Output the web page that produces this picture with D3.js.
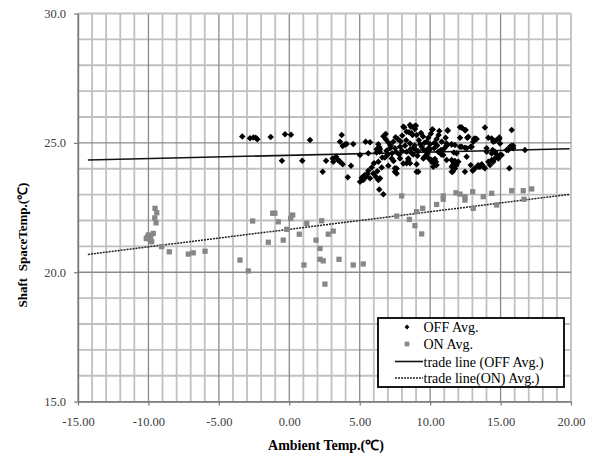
<!DOCTYPE html>
<html><head><meta charset="utf-8">
<script src="https://cdn.jsdelivr.net/npm/d3@7"></script>
<style>
html,body{margin:0;padding:0;background:#fff;}
svg{display:block;}
text{font-family:"Liberation Serif","Times New Roman",serif;}
</style></head>
<body>
<svg id="chart" width="597" height="458"></svg>
<script>
// ---------------- DATA ----------------
const xDomain = [-15, 20];
const yDomain = [15, 30];
const xTickValues = [-15, -10, -5, 0, 5, 10, 15, 20];
const yTickValues = [15, 20, 25, 30];
const xLabel = "Ambient Temp.(\u2103)";
const yLabel = "Shaft  SpaceTemp.(\u2103)";
const legendLabels = ["OFF Avg.", "ON Avg.", "trade line (OFF Avg.)", "trade line(ON) Avg.)"];

// OFF Avg. points [ambient, shaft]
const offAvg = [
[-3.34,25.25],[-2.79,25.18],[-2.55,25.21],[-2.38,25.20],[-2.27,25.14],[-1.32,25.23],[-0.30,25.33],[0.12,25.31],[-0.52,24.31],[0.92,24.31],[1.47,25.11],
[2.37,23.88],[2.61,24.31],[3.08,24.40],[3.12,24.27],[3.32,24.46],[3.44,24.35],[3.60,24.27],[3.79,24.17],[3.55,24.30],[4.38,24.12],[4.15,23.67],[3.72,25.30],[3.60,25.04],[3.95,24.94],[3.79,24.88],[4.07,24.96],[4.54,24.96],[5.42,25.04],[5.73,25.02],[5.02,24.53],[5.61,24.60],[6.20,24.63],[6.01,24.21],[5.85,24.05],[5.61,23.92],[5.37,23.76],[5.14,23.65],[5.02,23.50],[5.25,23.56],[5.73,23.63],[5.96,23.82],[6.15,23.69],[6.32,23.56],[5.45,23.69],[5.30,23.72],[5.55,23.80],[6.39,23.20],[6.68,23.01],[6.68,25.26],[6.86,25.13],[6.32,24.95],[6.44,24.75],[6.84,25.34],[6.39,24.83],[6.20,24.75],[6.42,24.66],[6.60,24.43],[6.32,24.27],[6.44,23.63],[6.79,24.43],[6.56,24.05],[6.25,23.90],
[7.03,24.12],[7.50,24.02],[7.62,23.82],[7.50,23.88],[7.62,24.01],[8.16,25.59],[8.64,25.62],[8.99,25.66],[8.57,25.69],[8.92,25.54],[8.50,25.41],[8.02,25.28],[7.70,25.15],[7.38,25.04],[7.20,24.89],[7.15,24.79],[7.50,24.79],[7.86,24.85],[8.21,24.89],[8.57,24.98],[8.33,24.66],[8.69,24.60],[9.16,24.68],[9.40,24.85],[9.75,25.04],[9.87,25.20],[10.15,25.52],[10.65,25.46],[11.25,25.47],[10.46,25.15],[10.82,25.04],[11.17,24.89],[10.29,24.79],[10.77,24.72],[7.27,24.40],[7.86,24.40],[8.45,24.40],[9.04,24.17],[9.16,23.88],[10.34,24.38],[10.46,24.14],[8.33,24.21],[8.45,24.34],[10.41,24.27],[10.22,24.08],[10.11,24.27],[9.04,23.88],
[9.50,24.75],[9.70,24.70],[9.90,24.80],[10.00,24.75],[8.80,24.80],[9.00,24.72],[8.00,24.70],[7.60,24.65],[7.30,24.60],[7.00,24.55],[6.90,24.70],[10.50,24.90],[10.60,24.65],[9.30,24.95],[9.60,25.00],[8.60,24.75],[8.90,24.90],[9.20,25.10],[9.50,25.25],[8.30,25.10],[7.90,25.05],[10.00,24.95],[10.30,25.00],[9.80,24.60],[9.10,24.50],[8.80,24.55],[7.80,24.55],[7.40,24.30],[8.10,24.20],[9.60,24.45],[10.80,24.55],[11.00,24.78],[9.35,25.38],[8.75,25.30],[10.05,25.35],[7.05,25.00],[7.55,25.22],[10.60,25.30],[11.10,25.20],[9.90,24.40],
[8.10,25.62],[8.92,25.65],[8.33,25.43],[8.69,25.37],[9.04,25.30],[10.18,25.52],[11.24,25.49],[12.12,25.60],[12.47,25.49],[8.57,24.21],[9.52,24.40],[9.75,24.53],[10.11,24.34],[10.34,24.21],[10.58,24.66],[10.93,24.53],[11.17,24.34],[11.64,24.27],[11.88,24.14],[11.53,23.88],[11.76,24.01],
[12.24,25.59],[12.52,25.50],[13.89,25.59],[15.79,25.50],[12.12,25.20],[12.64,25.20],[13.11,25.15],[13.30,25.15],[14.13,25.20],[14.60,25.07],[14.91,25.15],[11.53,24.94],[11.76,24.92],[12.24,24.85],[12.47,24.81],[12.88,24.85],[14.01,24.79],[14.44,24.72],[15.79,24.89],[15.90,24.79],[16.73,24.72],[11.69,24.63],[11.88,24.60],[11.53,24.34],[11.76,24.30],[11.65,24.17],[12.00,24.27],[11.60,23.88],[12.47,23.88],[13.18,24.02],[13.42,24.14],[13.66,24.17],[13.77,24.08],[13.89,24.02],[14.48,24.27],[14.84,24.43],[14.96,24.53],[14.72,24.56],[12.88,24.14],[14.25,24.14],[15.62,24.02],
[15.67,24.85],[15.55,24.72],[15.90,24.89],[13.02,23.92],[13.54,24.08],[11.53,24.08],[11.76,24.14],[15.43,24.72],[14.96,24.98],[14.72,25.11],[15.08,24.53],[14.84,24.40],[14.60,24.66],
[12.71,25.24],[13.18,25.17],[13.06,25.04],[11.17,24.98],[11.53,24.95],[12.12,24.85],[12.59,24.79],[12.95,24.85],[12.59,24.46],[13.06,23.95],[13.42,24.08],[14.37,25.17],[14.91,25.21],[14.48,25.04],[14.01,24.66],[14.37,24.59],[14.72,24.46],[14.13,24.27],[14.37,24.34],[14.60,24.40]
];

// ON Avg. points [ambient, shaft]
const onAvg = [
[-9.53,22.47],[-9.41,22.30],[-9.46,21.91],[-9.55,22.10],[-9.66,21.50],[-9.84,21.37],[-10.01,21.44],[-10.08,21.35],[-9.89,21.27],[-9.77,21.18],[-10.15,21.30],[-9.06,20.99],[-8.52,20.79],[-7.17,20.70],[-6.82,20.75],[-5.98,20.81],[-3.50,20.47],[-2.91,20.05],[-2.60,21.98],
[-1.18,22.28],[-1.02,22.28],[-0.78,21.95],[-1.49,21.16],[-0.43,21.24],[-0.18,21.66],[0.10,22.08],[0.24,22.21],[0.71,21.47],[1.04,20.28],[1.24,21.89],[1.90,21.24],[2.18,20.92],[2.30,21.99],[2.18,20.50],[2.41,20.44],[2.77,21.47],[3.12,21.59],[2.53,19.54],[3.53,20.50],[4.54,20.28],[5.25,20.32],
[7.98,22.95],[7.62,22.17],[8.52,22.04],[8.92,21.80],[9.40,21.48],[9.04,22.34],[9.47,22.47],[10.46,22.62],[10.93,22.82],[10.93,22.95],[11.83,23.07],[12.12,23.02],[12.47,22.92],[12.47,22.79],[13.02,23.11],[13.06,22.47],[13.77,22.92],[14.37,23.05],[14.72,22.60],[15.79,23.15],[16.61,23.15],[16.66,22.82],[17.21,23.22]
];

// trend lines (end points)
const trendX = [-14.3, 19.9];
const offTrendY = [24.34, 24.77];
const onTrendY = [20.69, 23.01];

// ---------------- DRAW ----------------
const svg = d3.select("#chart");
const x = d3.scaleLinear().domain(xDomain).range([78, 571]);
const y = d3.scaleLinear().domain(yDomain).range([401.6, 13.5]);

// minor grid
const minorX = d3.range(xDomain[0], xDomain[1] + 1, 1);
const minorY = d3.range(yDomain[0], yDomain[1] + 1, 1);
const grid = svg.append("g");
grid.selectAll(".vx").data(minorX.filter(v => v % 5 !== 0)).join("line")
  .attr("x1", d => x(d)).attr("x2", d => x(d)).attr("y1", y(yDomain[1])).attr("y2", y(yDomain[0]))
  .attr("stroke", "#c0c0c0").attr("stroke-width", 1.8);
grid.selectAll(".hy").data(minorY.filter(v => v % 5 !== 0)).join("line")
  .attr("y1", d => y(d)).attr("y2", d => y(d)).attr("x1", x(xDomain[0])).attr("x2", x(xDomain[1]))
  .attr("stroke", "#c0c0c0").attr("stroke-width", 1.8);
// major grid
grid.selectAll(".mx").data(xTickValues).join("line")
  .attr("x1", d => x(d)).attr("x2", d => x(d)).attr("y1", y(yDomain[1])).attr("y2", y(yDomain[0]))
  .attr("stroke", d => d === xDomain[1] ? "#c0c0c0" : "#8a8a8a").attr("stroke-width", d => d === xDomain[1] ? 1.8 : 1.3);
grid.selectAll(".my").data(yTickValues).join("line")
  .attr("y1", d => y(d)).attr("y2", d => y(d)).attr("x1", x(xDomain[0])).attr("x2", x(xDomain[1]))
  .attr("stroke", d => d === yDomain[1] ? "#c0c0c0" : "#8a8a8a").attr("stroke-width", d => d === yDomain[1] ? 1.8 : 1.3);

// axes
const xAxis = svg.append("g").attr("transform", `translate(0,${y(yDomain[0])})`)
  .call(d3.axisBottom(x).tickValues(xTickValues).tickFormat(v => v.toFixed(2)).tickSizeInner(4).tickSizeOuter(0).tickPadding(12));
const yAxis = svg.append("g").attr("transform", `translate(${x(xDomain[0])},0)`)
  .call(d3.axisLeft(y).tickValues(yTickValues).tickFormat(v => v.toFixed(1)).tickSizeInner(4).tickSizeOuter(0).tickPadding(8));
[xAxis, yAxis].forEach(g => {
  g.attr("font-family", null);
  g.select(".domain").attr("stroke", "#7a7a7a").attr("stroke-width", 1.4);
  g.selectAll(".tick line").attr("stroke", "#7a7a7a").attr("stroke-width", 1.2);
  g.selectAll(".tick text").style("font-family", "'Liberation Serif', serif").attr("font-size", 12.5).attr("fill", "#404040");
});

// trend lines
const line = d3.line().x(d => x(d[0])).y(d => y(d[1]));
svg.append("path").datum(trendX.map((v, i) => [v, offTrendY[i]]))
  .attr("d", line).attr("fill", "none").attr("stroke", "#111").attr("stroke-width", 1.6);
svg.append("path").datum(trendX.map((v, i) => [v, onTrendY[i]]))
  .attr("d", line).attr("fill", "none").attr("stroke", "#222").attr("stroke-width", 1.5).attr("stroke-dasharray", "2,1");

// points
const sq = d3.symbol().type(d3.symbolSquare).size(28);
svg.append("g").selectAll("path").data(onAvg).join("path")
  .attr("d", sq).attr("transform", d => `translate(${x(d[0])},${y(d[1])})`).attr("fill", "#878787");
const dm = d3.symbol().type(d3.symbolSquare).size(21);
svg.append("g").selectAll("path").data(offAvg).join("path")
  .attr("d", dm).attr("transform", d => `translate(${x(d[0])},${y(d[1])}) rotate(45)`).attr("fill", "#000");

// axis titles
svg.append("text").attr("x", 326).attr("y", 450).attr("text-anchor", "middle")
  .style("font-family", "'Liberation Serif', serif")
  .attr("font-weight", "bold").attr("font-size", 14).attr("fill", "#000").text(xLabel);
svg.append("text").attr("transform", "translate(27,245) rotate(-90)").attr("text-anchor", "middle")
  .style("font-family", "'Liberation Serif', serif")
  .attr("font-weight", "bold").attr("font-size", 13).attr("fill", "#000").style("white-space", "pre").text(yLabel);

// legend
const lg = svg.append("g");
lg.append("rect").attr("x", 378).attr("y", 318).attr("width", 186).attr("height", 69)
  .attr("fill", "#fff").attr("stroke", "#000").attr("stroke-width", 1.8);
const rowsY = [327, 344, 361.5, 378];
lg.append("path").attr("d", d3.symbol().type(d3.symbolSquare).size(12)).attr("transform", `translate(407,${rowsY[0]}) rotate(45)`).attr("fill", "#000");
lg.append("path").attr("d", d3.symbol().type(d3.symbolSquare).size(22)).attr("transform", `translate(407,${rowsY[1]})`).attr("fill", "#878787");
lg.append("line").attr("x1", 395).attr("x2", 423).attr("y1", rowsY[2]).attr("y2", rowsY[2]).attr("stroke", "#111").attr("stroke-width", 1.6);
lg.append("line").attr("x1", 395).attr("x2", 423).attr("y1", rowsY[3]).attr("y2", rowsY[3]).attr("stroke", "#222").attr("stroke-width", 1.5).attr("stroke-dasharray", "2,1");
lg.selectAll("text").data(legendLabels).join("text")
  .attr("x", 423.5).attr("y", (d, i) => rowsY[i] + 5).attr("font-size", 14).attr("fill", "#000").text(d => d);
</script>
</body></html>
